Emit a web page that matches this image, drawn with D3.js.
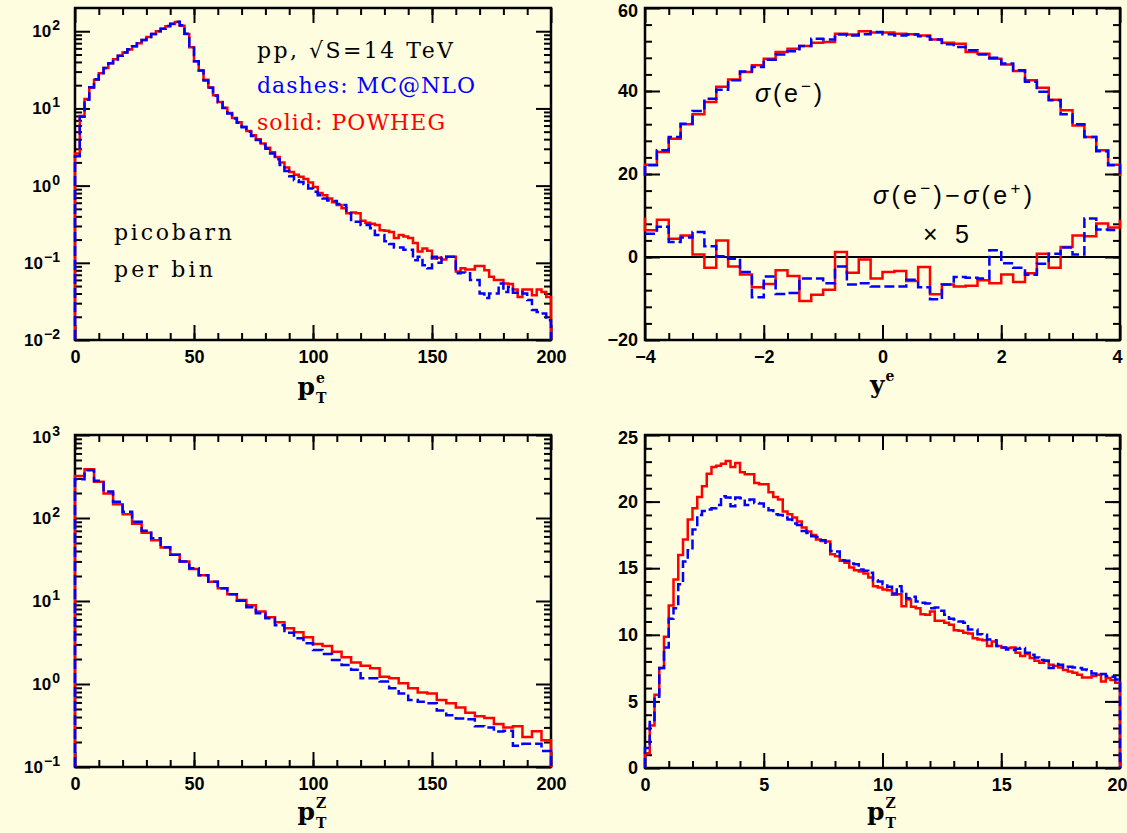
<!DOCTYPE html>
<html>
<head>
<meta charset="utf-8">
<script src="https://cdn.jsdelivr.net/npm/d3@7"></script>
<style>
  body { margin: 0; background: #fffde0; }
</style>
</head>
<body>
<div id="chart"></div>
<script>
// ---- data ----

// pT of the electron, 2 GeV bins from 0 to 200 (pb per bin)
const ptEPowheg = [
  2.6, 8.0, 13.2, 18.5, 23.5, 28.5, 33.5, 38.5, 43.5, 48,
  53, 58, 64, 70, 77, 84, 92, 100, 108, 116,
  124, 132, 118, 92, 62, 41, 31, 23.5, 18.7, 14.8,
  12.1, 10.2, 8.7, 7.5, 6.6, 5.8, 5.1, 4.5, 4.0, 3.5,
  3.1, 2.7, 2.35, 2.0, 1.72, 1.50, 1.38, 1.30, 1.22, 1.10,
  0.96, 0.80, 0.75, 0.68, 0.61, 0.56, 0.51, 0.44, 0.45, 0.44,
  0.35, 0.33, 0.32, 0.31, 0.265, 0.26, 0.25, 0.21, 0.23, 0.22,
  0.21, 0.18, 0.14, 0.153, 0.143, 0.114, 0.116, 0.11, 0.12, 0.12,
  0.077, 0.085, 0.082, 0.082, 0.091, 0.091, 0.080, 0.066, 0.060, 0.060,
  0.054, 0.053, 0.045, 0.036, 0.045, 0.045, 0.038, 0.045, 0.042, 0.036
];
const ptEMcnlo = [
  2.4, 7.8, 13.0, 18.8, 23.8, 28.8, 33.5, 38.5, 43, 48,
  53, 58.5, 64, 70, 77, 84, 92, 100, 108, 117,
  125, 133, 120, 93, 61, 41, 31, 23, 18.5, 14.6,
  12, 10.1, 8.6, 7.4, 6.5, 5.7, 5.0, 4.4, 3.9, 3.4,
  3.0, 2.6, 2.2, 1.85, 1.55, 1.32, 1.17, 1.11, 1.05, 0.92,
  0.83, 0.75, 0.68, 0.64, 0.63, 0.58, 0.56, 0.44, 0.34, 0.34,
  0.31, 0.31, 0.28, 0.23, 0.23, 0.19, 0.175, 0.158, 0.158, 0.148,
  0.148, 0.108, 0.12, 0.093, 0.085, 0.12, 0.10, 0.117, 0.12, 0.12,
  0.073, 0.075, 0.073, 0.060, 0.060, 0.040, 0.035, 0.040, 0.040, 0.054,
  0.042, 0.049, 0.041, 0.042, 0.040, 0.033, 0.0245, 0.023, 0.022, 0.018
];

// rapidity of the electron, 0.2 bins from -4 to 4
const yEPowheg = [
  22.25, 25.3, 28.5, 32.0, 34.4, 37.35, 41.0, 42.8, 44.6, 46.2,
  47.8, 49.4, 50.2, 50.85, 51.6, 51.8, 53.8, 53.6, 54.4, 54.1,
  54.1, 53.8, 53.7, 53.4, 52.4, 51.6, 51.4, 49.4, 49.0, 47.8,
  46.4, 44.8, 42.6, 40.8, 37.9, 35.35, 31.7, 28.9, 25.7, 22.25
];
const yEMcnlo = [
  22.1, 25.7, 28.9, 32.1, 35.2, 38.15, 40.3, 42.6, 44.7, 45.8,
  47.55, 48.8, 49.6, 50.85, 52.6, 52.4, 53.6, 53.4, 53.7, 54.2,
  53.7, 53.4, 53.6, 53.2, 52.4, 51.25, 50.6, 49.8, 48.8, 48.0,
  46.6, 45.0, 42.2, 39.8, 37.75, 34.4, 32.0, 28.9, 25.5, 22.1
];
// (sigma(e-) - sigma(e+)) x 5
const yAsymPowheg = [
  6.45, 9.0, 4.4, 5.2, 0.6, -2.6, 4.0, -2.3, -4.2, -7.3,
  -6.5, -3.2, -4.6, -10.6, -9.1, -7.9, 1.2, -3.8, -0.6, -5.2,
  -3.6, -3.4, -5.8, -2.4, -9.0, -6.6, -7.1, -6.9, -5.6, -6.3,
  -4.2, -6.0, -3.9, 0.8, -2.6, 2.4, 5.2, 5.0, 8.1, 7.1
];
const yAsymMcnlo = [
  5.6, 7.3, 3.6, 4.7, 6.0, 2.6, 0.2, -0.4, -3.6, -9.7,
  -4.7, -8.9, -8.7, -5.2, -5.2, -6.3, -2.3, -6.6, -6.3, -7.1,
  -7.1, -7.1, -5.5, -7.3, -10.2, -6.6, -4.8, -5.0, -5.2, 1.6,
  -1.5, -2.6, -4.3, -1.6, 0.8, 2.3, 0.6, 9.3, 6.6, 6.5
];
// values just outside the plotted rapidity range (left, right),
// they only show as the short vertical steps on the frame
const yEOutside = [19.5, 19.5];
const yAsymOutside = [9.5, 9.0];

// pT of the Z, 4 GeV bins from 0 to 200
const ptZPowheg = [
  321, 386, 274, 198, 146, 111, 85, 66.5, 54, 44,
  36, 30, 24.3, 20.4, 17.1, 14.2, 12.1, 10.3, 8.9, 7.45,
  6.35, 5.55, 4.69, 4.19, 3.65, 3.03, 2.87, 2.45, 2.1, 1.82,
  1.66, 1.55, 1.22, 1.17, 1.02, 0.89, 0.79, 0.77, 0.64, 0.585,
  0.52, 0.45, 0.41, 0.39, 0.33, 0.30, 0.31, 0.23, 0.27, 0.21
];
const ptZMcnlo = [
  292, 375, 281, 208, 157, 119, 90, 70, 57, 44.5,
  36, 30, 24.8, 20.4, 17.1, 14.2, 12.1, 10.1, 8.4, 7.1,
  6.2, 5.1, 4.15, 3.55, 3.1, 2.57, 2.3, 1.95, 1.69, 1.48,
  1.17, 1.17, 1.07, 0.89, 0.77, 0.64, 0.61, 0.585, 0.48, 0.42,
  0.385, 0.375, 0.31, 0.30, 0.267, 0.274, 0.18, 0.19, 0.19, 0.156
];

// pT of the Z at low pT, 0.2 GeV bins from 0 to 20
const ptZLowPowheg = [
  1.1, 3.2, 5.5, 7.5, 9.85, 12.2, 14.15, 16.0, 17.15, 18.65,
  19.5, 20.35, 21.15, 22.1, 22.6, 22.7, 22.85, 23.05, 22.6, 22.9,
  22.2, 22.05, 22.05, 21.4, 21.3, 21.3, 20.7, 20.35, 20.15, 19.25,
  19.05, 18.8, 18.5, 18.05, 17.75, 17.5, 17.15, 17.05, 17.0, 16.05,
  15.9, 15.55, 15.4, 15.05, 14.85, 14.75, 14.6, 14.3, 13.65, 13.55,
  13.4, 13.35, 13.0, 13.05, 12.15, 12.65, 12.1, 12.0, 11.55, 11.5,
  11.75, 11.05, 11.05, 10.9, 10.75, 10.35, 10.3, 10.15, 10.1, 9.75,
  9.65, 9.6, 9.15, 9.5, 9.15, 9.05, 9.0, 9.05, 8.65, 8.4,
  8.55, 8.25, 8.05, 7.9, 8.05, 7.75, 7.65, 7.55, 7.35, 7.25,
  7.15, 7.0, 6.8, 6.8, 6.9, 7.0, 6.5, 6.75, 6.6, 6.4
];
const ptZLowMcnlo = [
  1.5, 3.6, 5.35, 7.5, 9.05, 11.2, 12.0, 13.8, 15.5, 16.35,
  17.9, 19.0, 19.3, 19.4, 19.5, 19.75, 20.4, 20.3, 19.65, 20.3,
  20.25, 19.75, 20.15, 19.9, 19.85, 19.5, 19.35, 19.05, 19.0, 18.8,
  18.65, 18.35, 18.25, 17.8, 17.65, 17.4, 17.35, 17.1, 16.8, 16.3,
  16.25, 15.6, 15.55, 15.35, 15.3, 14.9, 14.8, 14.65, 14.1, 14.0,
  13.8, 13.6, 13.1, 13.65, 13.25, 12.75, 12.85, 12.5, 12.4, 12.35,
  12.0, 12.05, 11.8, 11.5, 11.2, 11.15, 11.0, 10.9, 10.4, 10.4,
  10.05, 10.0, 9.65, 9.6, 9.15, 9.05, 8.9, 8.85, 8.95, 9.0,
  8.65, 8.5, 8.3, 8.1, 8.05, 7.5, 7.8, 7.75, 7.55, 7.6,
  7.55, 7.5, 7.4, 7.35, 7.1, 7.0, 7.05, 6.9, 6.85, 6.65
];

// ---- drawing ----
const width = 1127;
const height = 833;
const red = "#ff0000";
const blue = "#0000ff";
const tickFont = "'Liberation Sans', Arial, sans-serif";
const serifFont = "'DejaVu Serif', serif";

const svg = d3.select("#chart").append("svg")
  .attr("width", width)
  .attr("height", height);

svg.append("rect").attr("width", width).attr("height", height).attr("fill", "#fffde0");

// minor ticks 2..9 of every decade inside the domain
function logMinors(lo, hi) {
  const out = [];
  for (let d = lo; d < hi; d *= 10) {
    for (let k = 2; k <= 9; k++) {
      const v = +(k * d).toPrecision(3);
      if (v < hi) out.push(v);
    }
  }
  return out;
}

const supDigits = (e) => (e < 0 ? "\u2212" + (-e) : "" + e);

function drawPanel(p) {
  const g = svg.append("g");
  const x = d3.scaleLinear().domain(p.xDomain).range([p.left, p.left + p.w]);
  const y = (p.log ? d3.scaleLog() : d3.scaleLinear())
    .domain(p.yDomain)
    .range([p.top + p.h, p.top]);

  const bottom = p.top + p.h;
  const right = p.left + p.w;

  // helper: ticks pointing into the frame
  function addTicks(axis, transform, values, size, labelled, padding) {
    const a = g.append("g")
      .attr("transform", transform)
      .call(axis.tickValues(values).tickSize(-size).tickPadding(padding || 8)
        .tickFormat(labelled ? (labelled === "log" ? () => "" : d3.format("d")) : ""))
      .call((s) => s.select(".domain").remove());
    a.selectAll(".tick line").attr("stroke", "#000").attr("stroke-width", 2);
    a.attr("font-family", tickFont).attr("font-weight", "bold").attr("font-size", 18);
    a.selectAll(".tick text").attr("fill", "#000");
    return a;
  }

  // x axes
  const xb = addTicks(d3.axisBottom(x), `translate(0,${bottom})`, p.xMajor, 15, true, 10);
  // last label sits at the page edge: pull it in a little
  if (right > width - 12) {
    xb.selectAll(".tick").filter((d) => d === p.xDomain[1]).select("text").attr("dx", -3);
  }
  addTicks(d3.axisBottom(x), `translate(0,${bottom})`, p.xMinor, 7, false);
  addTicks(d3.axisTop(x), `translate(0,${p.top})`, p.xMajor, 15, false);
  addTicks(d3.axisTop(x), `translate(0,${p.top})`, p.xMinor, 7, false);

  // y axes
  const yl = addTicks(d3.axisLeft(y), `translate(${p.left},0)`, p.yMajor, 15,
    p.log ? "log" : true, p.log ? 15 : 7);
  if (p.log) {
    yl.selectAll(".tick text").each(function (d) {
      const t = d3.select(this).attr("font-size", 17);
      const e = Math.round(Math.log10(d));
      t.append("tspan").text("10");
      t.append("tspan").attr("dy", "-0.5em").attr("dx", 1).attr("font-size", 14).text(supDigits(e));
    });
  }
  // keep the top label inside the page
  yl.selectAll(".tick").filter((d) => d === p.yDomain[1]).select("text").attr("dy", "0.45em");
  addTicks(d3.axisLeft(y), `translate(${p.left},0)`, p.yMinor, 7, false);
  addTicks(d3.axisRight(y), `translate(${right},0)`, p.yMajor, 15, false);
  addTicks(d3.axisRight(y), `translate(${right},0)`, p.yMinor, 7, false);

  // frame
  g.append("rect")
    .attr("x", p.left).attr("y", p.top)
    .attr("width", p.w).attr("height", p.h)
    .attr("fill", "none").attr("stroke", "#000").attr("stroke-width", 2.5);

  if (p.zeroLine) {
    g.append("line")
      .attr("x1", x(p.xDomain[0])).attr("x2", x(p.xDomain[1]))
      .attr("y1", y(0)).attr("y2", y(0))
      .attr("stroke", "#000").attr("stroke-width", 2);
  }

  // histograms
  const line = d3.line().x((d) => x(d[0])).y((d) => y(d[1])).curve(d3.curveStepAfter);
  p.series.forEach((s) => {
    const lo = p.xDomain[0];
    const hi = p.xDomain[1];
    const bw = (hi - lo) / s.values.length;
    const startY = s.base !== undefined ? s.base : s.outside ? s.outside[0] : null;
    const endY = s.base !== undefined ? s.base : s.outside ? s.outside[1] : null;
    const pts = [];
    if (startY !== null) pts.push([lo, startY]);
    s.values.forEach((v, i) => pts.push([lo + i * bw, v]));
    pts.push([hi, s.values[s.values.length - 1]]);
    if (endY !== null) pts.push([hi, endY]);
    g.append("path")
      .attr("d", line(pts))
      .attr("fill", "none")
      .attr("stroke", s.color)
      .attr("stroke-width", 2.5)
      .attr("stroke-dasharray", s.dashed ? "10,4" : null);
  });

  // axis title: p with stacked sub/superscript
  const cx = p.left + p.w / 2;
  const by = p.titleY;
  g.append("text")
    .attr("x", cx + 2).attr("y", by)
    .attr("text-anchor", "end")
    .attr("font-family", serifFont).attr("font-weight", "bold").attr("font-size", 25)
    .text(p.title[0]);
  g.append("text")
    .attr("x", cx + 3).attr("y", by - 12)
    .attr("font-family", serifFont).attr("font-weight", "bold").attr("font-size", 14)
    .text(p.title[2]);
  if (p.title[1]) {
    g.append("text")
      .attr("x", cx + 3).attr("y", by + 8)
      .attr("font-family", serifFont).attr("font-weight", "bold").attr("font-size", 14)
      .text(p.title[1]);
  }
  return { g, x, y };
}

// panel 1: pT(e)
drawPanel({
  left: 75, top: 8, w: 476, h: 332,
  xDomain: [0, 200], yDomain: [0.01, 200], log: true,
  xMajor: [0, 50, 100, 150, 200], xMinor: d3.range(10, 200, 10),
  yMajor: [0.01, 0.1, 1, 10, 100], yMinor: logMinors(0.01, 200),
  series: [
    { values: ptEPowheg, color: red, base: 0.01 },
    { values: ptEMcnlo, color: blue, dashed: true, base: 0.01 }
  ],
  title: ["p", "T", "e"], titleY: 395
});

// panel 2: y(e)
drawPanel({
  left: 645, top: 8, w: 475, h: 332,
  xDomain: [-4, 4], yDomain: [-20, 60], log: false,
  xMajor: [-4, -2, 0, 2, 4], xMinor: d3.range(-3.6, 4, 0.4).map((v) => +v.toFixed(1)),
  yMajor: [-20, 0, 20, 40, 60], yMinor: d3.range(-16, 60, 4),
  zeroLine: true,
  series: [
    { values: yEPowheg, color: red, outside: yEOutside },
    { values: yEMcnlo, color: blue, dashed: true, outside: yEOutside },
    { values: yAsymPowheg, color: red, outside: yAsymOutside },
    { values: yAsymMcnlo, color: blue, dashed: true }
  ],
  title: ["y", null, "e"], titleY: 393
});

// panel 3: pT(Z)
drawPanel({
  left: 75, top: 435, w: 476, h: 332,
  xDomain: [0, 200], yDomain: [0.1, 1000], log: true,
  xMajor: [0, 50, 100, 150, 200], xMinor: d3.range(10, 200, 10),
  yMajor: [0.1, 1, 10, 100, 1000], yMinor: logMinors(0.1, 1000),
  series: [
    { values: ptZPowheg, color: red, base: 0.1 },
    { values: ptZMcnlo, color: blue, dashed: true, base: 0.1 }
  ],
  title: ["p", "T", "Z"], titleY: 820
});

// panel 4: pT(Z), low region
drawPanel({
  left: 645, top: 435, w: 475, h: 333,
  xDomain: [0, 20], yDomain: [0, 25], log: false,
  xMajor: [0, 5, 10, 15, 20], xMinor: d3.range(1, 20, 1),
  yMajor: [0, 5, 10, 15, 20, 25], yMinor: d3.range(1, 25, 1),
  series: [
    { values: ptZLowPowheg, color: red, base: 0 },
    { values: ptZLowMcnlo, color: blue, dashed: true, base: 0 }
  ],
  title: ["p", "T", "Z"], titleY: 820
});

// annotations, panel 1
const note = (x, y, txt, color, len) =>
  svg.append("text")
    .attr("x", x).attr("y", y)
    .attr("fill", color)
    .attr("font-family", serifFont)
    .attr("font-size", 22)
    .attr("textLength", len).attr("lengthAdjust", "spacing")
    .text(txt);

note(257, 58, "pp, \u221AS=14 TeV", "#000", 196);
note(257, 93, "dashes: MC@NLO", blue, 218);
note(257, 130, "solid: POWHEG", red, 188);
note(114, 240, "picobarn", "#000", 118);
note(114, 277, "per bin", "#000", 99);

// annotations, panel 2
function sigmaText(x, y, parts, len) {
  const t = svg.append("text")
    .attr("x", x).attr("y", y)
    .attr("font-family", tickFont).attr("font-size", 25).attr("fill", "#000")
    .attr("textLength", len).attr("lengthAdjust", "spacing");
  let shift = 0;
  parts.forEach(([txt, kind]) => {
    const target = kind === "sup" ? -10 : 0;
    const sp = t.append("tspan").attr("dy", target - shift).text(txt);
    shift = target;
    if (kind === "sup") sp.attr("font-size", 17);
    if (kind === "i") sp.attr("font-style", "italic");
  });
  return t;
}

sigmaText(755, 102, [["\u03C3", "i"], ["(e", ""], ["\u2212", "sup"], [")", ""]], 67);
sigmaText(873, 204, [["\u03C3", "i"], ["(e", ""], ["\u2212", "sup"], [")\u2212", ""],
  ["\u03C3", "i"], ["(e", ""], ["+", "sup"], [")", ""]], 159);
sigmaText(923, 243, [["\u00D7 5", ""]], 46);
</script>
</body>
</html>
